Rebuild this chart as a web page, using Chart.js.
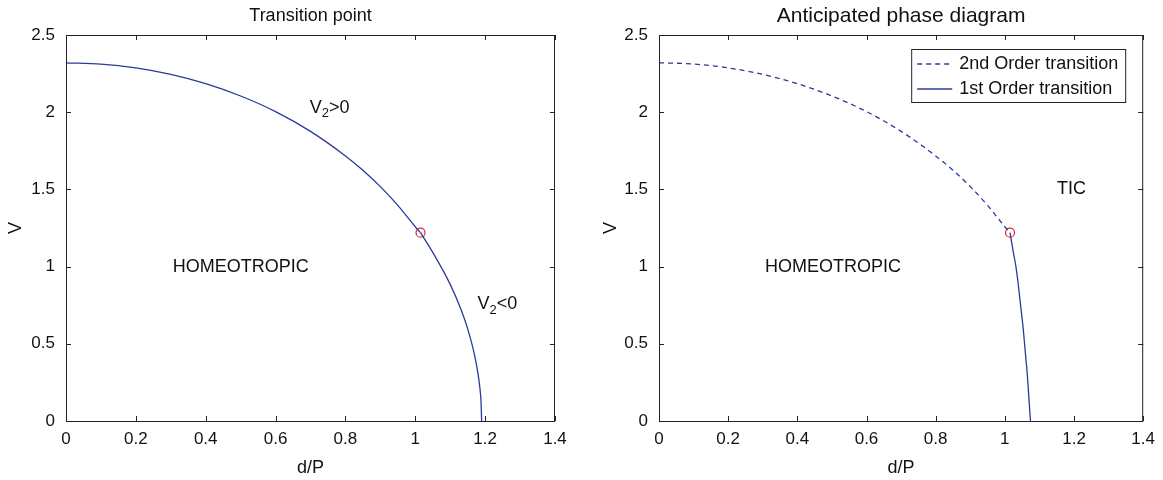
<!DOCTYPE html>
<html>
<head>
<meta charset="utf-8">
<script src="https://cdn.jsdelivr.net/npm/chart.js@4.4.0/dist/chart.umd.min.js"></script>
<style>
  body { margin: 0; background: #fff; }
  .panel { position: absolute; top: 0; }
</style>
</head>
<body>
<div class="panel" style="left:0"><canvas id="left" width="580" height="480"></canvas></div>
<div class="panel" style="left:580px"><canvas id="right" width="583" height="480"></canvas></div>
<script>
// boundary: upper branch (shared by both panels)
const dUpper = [0, 0.1, 0.2, 0.3, 0.4, 0.5, 0.6, 0.7, 0.8, 0.85, 0.9, 0.95, 1.0, 1.015];
const vUpper = [2.32, 2.312, 2.287, 2.245, 2.185, 2.105, 2.004, 1.876, 1.717, 1.624, 1.518, 1.397, 1.258, 1.22];
// left panel, continuation of the same curve below the transition point
const dLowerLeft = [1.015, 1.05, 1.1, 1.13, 1.15, 1.17, 1.18, 1.185, 1.188, 1.19];
const vLowerLeft = [1.22, 1.092, 0.885, 0.727, 0.597, 0.424, 0.30, 0.213, 0.134, 0];
// right panel, 1st order branch
const dLowerRight = [1.015, 1.024, 1.032, 1.038, 1.043, 1.048, 1.053, 1.057, 1.061, 1.065, 1.068, 1.071, 1.074];
const vLowerRight = [1.22, 1.1, 1.0, 0.9, 0.8, 0.7, 0.6, 0.5, 0.4, 0.3, 0.2, 0.1, 0];
// tricritical point
const dPoint = [1.015];
const vPoint = [1.22];

const titles = ['Transition point', 'Anticipated phase diagram'];
const legendLabels = ['2nd Order transition', '1st Order transition'];

// region labels: [text parts, d, V]
const leftNotes = [
  [[['V', 0], ['2', 1], ['>0', 0]], 0.755, 2.03],
  [[['HOMEOTROPIC', 0]], 0.50, 1.0],
  [[['V', 0], ['2', 1], ['<0', 0]], 1.235, 0.76]
];
const rightNotes = [
  [[['TIC', 0]], 1.193, 1.5],
  [[['HOMEOTROPIC', 0]], 0.503, 1.0]
];

const FONT = '"Liberation Sans", Arial, Helvetica, sans-serif';
const BLUE = '#2b3a99';
const RED = '#e8262d';

function pts(xs, ys) {
  return xs.map((x, i) => ({ x: x, y: ys[i] }));
}

function drawParts(ctx, cx, cy, parts, size) {
  ctx.save();
  ctx.fillStyle = '#111';
  ctx.textBaseline = 'middle';
  ctx.textAlign = 'left';
  let total = 0;
  parts.forEach(p => {
    ctx.font = (p[1] ? size * 0.72 : size) + 'px ' + FONT;
    total += ctx.measureText(p[0]).width;
  });
  let x = cx - total / 2;
  parts.forEach(p => {
    ctx.font = (p[1] ? size * 0.72 : size) + 'px ' + FONT;
    ctx.fillText(p[0], x, p[1] ? cy + size * 0.35 : cy);
    x += ctx.measureText(p[0]).width;
  });
  ctx.restore();
}

// box, inward ticks on all sides, title, labels, legend
const framePlugin = {
  id: 'frame',
  afterDatasetsDraw(chart, args, opts) {
    const { ctx, chartArea: a, scales: { x, y } } = chart;
    ctx.save();
    ctx.strokeStyle = '#222';
    ctx.lineWidth = 1;
    ctx.strokeRect(a.left + 0.5, a.top + 0.5, a.right - a.left - 1, a.bottom - a.top);
    ctx.beginPath();
    x.ticks.forEach(t => {
      const px = Math.round(x.getPixelForValue(t.value)) + 0.5;
      ctx.moveTo(px, a.bottom); ctx.lineTo(px, a.bottom - 5);
      ctx.moveTo(px, a.top); ctx.lineTo(px, a.top + 5);
    });
    y.ticks.forEach(t => {
      const py = Math.round(y.getPixelForValue(t.value)) + 0.5;
      ctx.moveTo(a.left, py); ctx.lineTo(a.left + 5, py);
      ctx.moveTo(a.right, py); ctx.lineTo(a.right - 5, py);
    });
    ctx.stroke();

    ctx.fillStyle = '#111';
    ctx.textAlign = 'center';
    ctx.textBaseline = 'middle';
    ctx.font = opts.titleSize + 'px ' + FONT;
    ctx.fillText(opts.title, (a.left + a.right) / 2, 16);

    opts.notes.forEach(n => {
      drawParts(ctx, x.getPixelForValue(n[1]), y.getPixelForValue(n[2]), n[0], 18);
    });

    if (opts.legend) {
      const w = 214, h = 53;
      const bx = a.right - 18 - w, by = a.top + 14;
      ctx.fillStyle = '#fff';
      ctx.fillRect(bx, by, w, h);
      ctx.strokeStyle = '#222';
      ctx.strokeRect(bx + 0.5, by + 0.5, w, h);
      ctx.strokeStyle = BLUE;
      ctx.lineWidth = 1.3;
      [[5, 4], []].forEach((dash, i) => {
        const ly = by + 15 + i * 25;
        ctx.setLineDash(dash);
        ctx.beginPath();
        ctx.moveTo(bx + 6, ly); ctx.lineTo(bx + 41, ly);
        ctx.stroke();
        ctx.setLineDash([]);
        ctx.fillStyle = '#111';
        ctx.textAlign = 'left';
        ctx.font = '18px ' + FONT;
        ctx.fillText(legendLabels[i], bx + 48, ly);
      });
    }
    ctx.restore();
  }
};

const plainNum = v => String(+Number(v).toFixed(2));

function makeScales(yWidth, yTitlePad) {
  return {
    x: {
      type: 'linear', min: 0, max: 1.4,
      grid: { display: false, drawTicks: false },
      border: { display: false },
      ticks: { stepSize: 0.2, padding: 8, color: '#111', font: { family: FONT, size: 17 }, callback: plainNum },
      title: { display: true, text: 'd/P', color: '#111', padding: { top: 0, bottom: 1 }, font: { family: FONT, size: 18 } },
      afterFit(s) { s.height = 59; }
    },
    y: {
      type: 'linear', min: 0, max: 2.5,
      grid: { display: false, drawTicks: false },
      border: { display: false },
      ticks: { stepSize: 0.5, padding: 11, color: '#111', font: { family: FONT, size: 17 }, callback: plainNum },
      title: { display: true, text: 'V', color: '#111', padding: { top: yTitlePad, bottom: 0 }, font: { family: FONT, size: 18 } },
      afterFit(s) { s.width = yWidth; }
    }
  };
}

const lineBase = { borderColor: BLUE, borderWidth: 1.3, pointRadius: 0, cubicInterpolationMode: 'monotone', fill: false };
const pointSet = {
  data: pts(dPoint, vPoint), showLine: false, pointRadius: 4.5, pointHoverRadius: 4.5,
  pointBorderColor: RED, pointBackgroundColor: 'rgba(0,0,0,0)', pointBorderWidth: 1.2
};

new Chart(document.getElementById('left'), {
  type: 'scatter',
  data: {
    datasets: [
      Object.assign({ data: pts(dUpper, vUpper), showLine: true }, lineBase),
      Object.assign({ data: pts(dLowerLeft, vLowerLeft), showLine: true }, lineBase),
      pointSet
    ]
  },
  options: {
    responsive: false, animation: false,
    layout: { padding: { left: 0, top: 35, right: 25, bottom: 0 } },
    scales: makeScales(66, 5),
    plugins: {
      legend: { display: false }, tooltip: { enabled: false },
      frame: { title: titles[0], titleSize: 18, notes: leftNotes, legend: false }
    }
  },
  plugins: [framePlugin]
});

new Chart(document.getElementById('right'), {
  type: 'scatter',
  data: {
    datasets: [
      Object.assign({ data: pts(dUpper, vUpper), showLine: true, borderDash: [5, 4] }, lineBase),
      Object.assign({ data: pts(dLowerRight, vLowerRight), showLine: true }, lineBase),
      Object.assign({}, pointSet)
    ]
  },
  options: {
    responsive: false, animation: false,
    layout: { padding: { left: 0, top: 35, right: 17, bottom: 0 } },
    scales: makeScales(79, 20),
    plugins: {
      legend: { display: false }, tooltip: { enabled: false },
      frame: { title: titles[1], titleSize: 21, notes: rightNotes, legend: true }
    }
  },
  plugins: [framePlugin]
});
</script>
</body>
</html>
